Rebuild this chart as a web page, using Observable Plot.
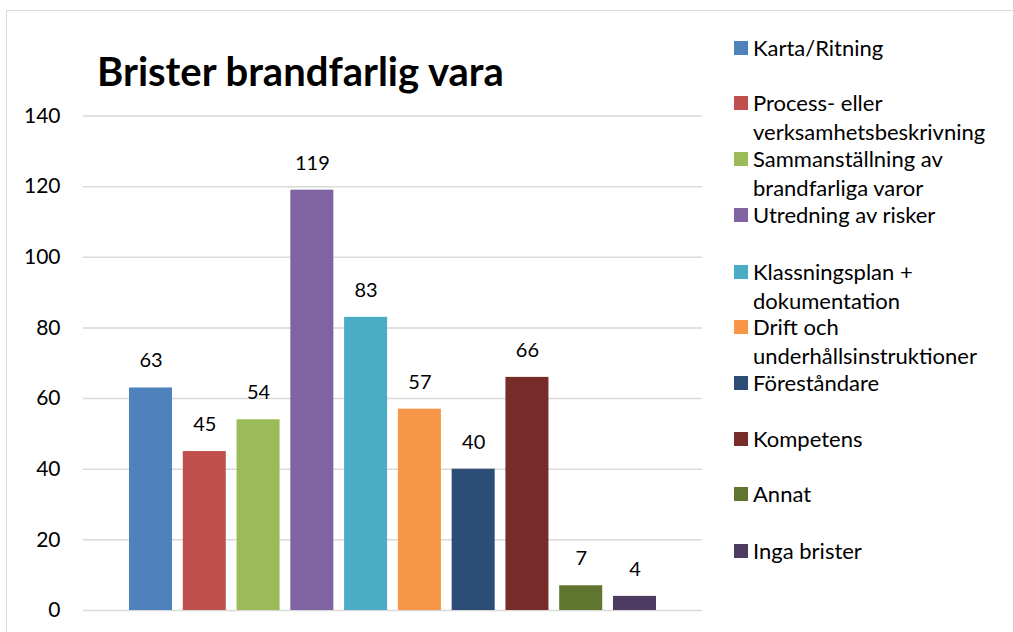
<!DOCTYPE html>
<html>
<head>
<meta charset="utf-8">
<script src="https://cdn.jsdelivr.net/npm/d3@7"></script>
<script src="https://cdn.jsdelivr.net/npm/@observablehq/plot@0.6"></script>
<style>
  body { margin: 0; background: #fff; font-family: Lato, "Open Sans", sans-serif; }
  #wrap { position: relative; width: 1013px; height: 632px; overflow: hidden; }
  #frame { position: absolute; left: 6px; top: 10px; width: 1100px; height: 700px; border: 1.5px solid #d9d9d9; box-sizing: border-box; }
  #title { position: absolute; left: 97px; top: 47px; font-size: 40px; font-weight: bold; color: #000; white-space: nowrap; }
  #chart { position: absolute; left: 0; top: 0; }
  #legend { position: absolute; left: 0; top: 0; }
  .li { position: absolute; left: 734px; font-size: 22px; line-height: 28.5px; color: #000; }
  .sw { position: absolute; left: 0; top: 7px; width: 14px; height: 14px; }
  .lt { margin-left: 19px; white-space: nowrap; }
</style>
</head>
<body>
<div id="wrap">
  <div id="frame"></div>
  <div id="chart"></div>
  <div id="title">Brister brandfarlig vara</div>
  <div id="legend"></div>
</div>
<script>
const categories = ["Karta/Ritning", "Process- eller verksamhetsbeskrivning", "Sammanställning av brandfarliga varor", "Utredning av risker", "Klassningsplan + dokumentation", "Drift och underhållsinstruktioner", "Föreståndare", "Kompetens", "Annat", "Inga brister"];
const legendLines = [["Karta/Ritning"], ["Process- eller", "verksamhetsbeskrivning"], ["Sammanställning av", "brandfarliga varor"], ["Utredning av risker"], ["Klassningsplan +", "dokumentation"], ["Drift och", "underhållsinstruktioner"], ["Föreståndare"], ["Kompetens"], ["Annat"], ["Inga brister"]];
const values = [63, 45, 54, 119, 83, 57, 40, 66, 7, 4];
const colors = ["#4f81bd", "#c0504d", "#9bbb59", "#8064a2", "#4bacc6", "#f79646", "#2c4d75", "#772c2a", "#5f7530", "#4d3b62"];
const yTicks = [0, 20, 40, 60, 80, 100, 120, 140];
const legendTops = [34, 89, 145, 201, 258, 313, 369, 425, 480, 537];

const data = categories.map((c, i) => ({category: c, value: values[i]}));

const chart = Plot.plot({
  width: 720,
  height: 632,
  marginTop: 115.5,
  marginBottom: 22,
  marginLeft: 83,
  marginRight: 18,
  style: {fontFamily: "Lato, 'Open Sans', sans-serif", color: "#000", background: "transparent"},
  x: {domain: categories, paddingInner: 0.2, paddingOuter: 0, insetLeft: 46, insetRight: 46, round: false, axis: null},
  y: {domain: [0, 140], ticks: yTicks, label: null},
  color: {domain: categories, range: colors},
  marks: [
    Plot.ruleY(yTicks, {stroke: "#d9d9d9", strokeWidth: 1.5}),
    Plot.axisY({ticks: yTicks, tickSize: 0, tickPadding: 23, fontSize: 21, label: null}),
    Plot.barY(data, {x: "category", y: "value", fill: "category"}),
    Plot.text(data, {x: "category", y: "value", text: d => String(d.value), dy: -27, fontSize: 20, fill: "#000"})
  ]
});
document.getElementById("chart").appendChild(chart);

const legend = document.getElementById("legend");
categories.forEach((c, i) => {
  const item = document.createElement("div");
  item.className = "li";
  item.style.top = legendTops[i] + "px";
  const sw = document.createElement("div");
  sw.className = "sw";
  sw.style.background = colors[i];
  item.appendChild(sw);
  legendLines[i].forEach(line => {
    const t = document.createElement("div");
    t.className = "lt";
    t.textContent = line;
    item.appendChild(t);
  });
  legend.appendChild(item);
});
</script>
</body>
</html>
